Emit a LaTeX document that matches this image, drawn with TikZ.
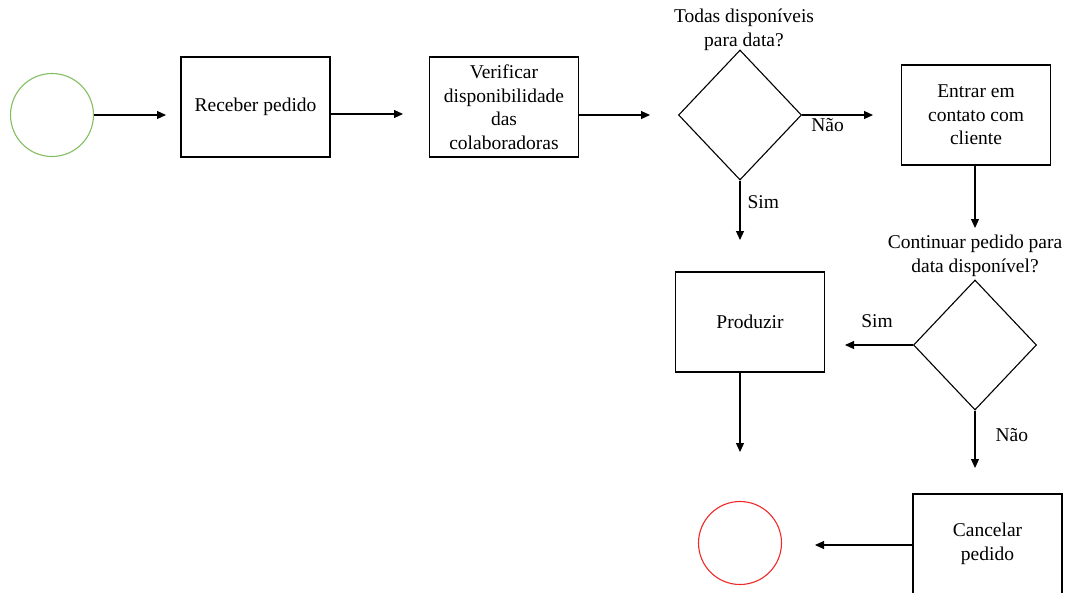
\documentclass[tikz,border=0pt]{standalone}
\usepackage{fontspec}
\setmainfont{Liberation Serif}
\usetikzlibrary{shapes.geometric,arrows.meta}
\definecolor{startgreen}{RGB}{130,190,95}
\definecolor{endred}{RGB}{240,40,40}
\begin{document}
\begin{tikzpicture}[x=1pt,y=-1pt,
  every node/.style={font=\rmfamily\fontsize{19.5}{23.5}\selectfont, align=center},
  task/.style={draw=black, line width=1.1pt, rectangle, inner sep=0pt,
    minimum width=149pt, minimum height=100pt},
  decision/.style={draw=black, line width=1.1pt, diamond, inner sep=0pt,
    minimum width=123pt, minimum height=130pt},
  event/.style={circle, line width=1.1pt, inner sep=0pt, minimum size=83pt},
  flow/.style={draw=black, line width=1.1pt, -{Triangle[length=9pt,width=8pt]}},
  lbl/.style={inner sep=0pt}
]
\useasboundingbox (0,0) rectangle (1070,592);

% events and activities
\node[event, draw=startgreen] (start) at (52,115) {};
\node[task] (recv) at (255.5,107) {Receber pedido};
\node[task] (verif) at (504,107) {Verificar\\disponibilidade\\das\\colaboradoras};
\node[decision] (dec1) at (740,115) {};
\node[lbl] (q1) at (744,30) {Todas disponíveis\\para data?};
\node[task] (contact) at (976,115) {Entrar em\\contato com\\cliente};
\node[lbl] (q2) at (975,256) {Continuar pedido para\\data disponível?};
\node[decision] (dec2) at (975,345) {};
\node[task] (prod) at (750,322) {Produzir};
\node[event, draw=endred] (end) at (740,543) {};
\node[task] (cancel) at (987.5,544) {Cancelar\\pedido};

% free ends of the connectors
\coordinate (e1) at (166,115);
\coordinate (e2) at (403,114);
\coordinate (e3) at (650,115);
\coordinate (e4) at (873,115);
\coordinate (e5) at (740,240);
\coordinate (e6) at (975,228);
\coordinate (e7) at (845,345);
\coordinate (e8) at (975,468);
\coordinate (e9) at (740,452);
\coordinate (e10) at (815,545);

% connectors
\draw[flow] (start.east) -- (e1);
\draw[flow] (recv.east |- e2) -- (e2);
\draw[flow] (verif.east |- e3) -- (e3);
\draw[flow] (dec1.east) -- node[lbl, below, xshift=-10pt, yshift=-3pt] (n1) {Não} (e4);
\draw[flow] (dec1.south) -- node[lbl, right, xshift=7pt, yshift=8pt] (s1) {Sim} (e5);
\draw[flow] (contact.south -| e6) -- (e6);
\draw[flow] (dec2.west) -- node[lbl, above, xshift=-2pt, yshift=17pt] (s2) {Sim} (e7);
\draw[flow] (dec2.south) -- node[lbl, right, xshift=20pt, yshift=4pt] (n2) {Não} (e8);
\draw[flow] (prod.south -| e9) -- (e9);
\draw[flow] (cancel.west |- e10) -- (e10);
\end{tikzpicture}
\end{document}
